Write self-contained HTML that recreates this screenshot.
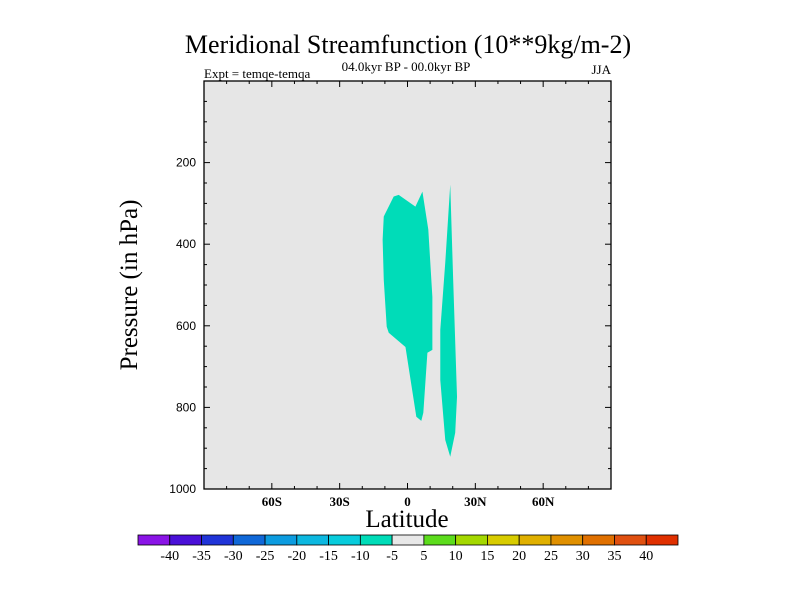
<!DOCTYPE html>
<html><head><meta charset="utf-8"><style>
html,body{margin:0;padding:0;background:#fff;width:800px;height:600px;overflow:hidden}
svg{display:block}
</style></head><body>
<svg id="chart" width="800" height="600" viewBox="0 0 800 600" xmlns="http://www.w3.org/2000/svg">
<text x="408" y="53" text-anchor="middle" font-family="Liberation Serif, serif" font-size="26">Meridional Streamfunction (10**9kg/m-2)</text>
<text x="406" y="71" text-anchor="middle" font-family="Liberation Serif, serif" font-size="13">04.0kyr BP - 00.0kyr BP</text>
<text x="204" y="78" font-family="Liberation Serif, serif" font-size="13">Expt = temqe-temqa</text>
<text x="611" y="74" text-anchor="end" font-family="Liberation Serif, serif" font-size="13">JJA</text>
<rect x="204" y="81" width="407" height="408" fill="#e6e6e6"/>
<g id="shapes"></g>
<g id="ticks" stroke="#000" stroke-width="1"></g>
<rect x="204" y="81" width="407" height="408" fill="none" stroke="#000" stroke-width="1.3"/>
<g id="labels" font-family="Liberation Serif, serif" font-size="13"></g>
<text transform="translate(137,285) rotate(-90)" text-anchor="middle" font-family="Liberation Serif, serif" font-size="25">Pressure (in hPa)</text>
<text x="407" y="527" text-anchor="middle" font-family="Liberation Serif, serif" font-size="25">Latitude</text>
<g id="colorbar"></g>
</svg>
<script>
const blobLat = [-10.5,-6.1,-3.9,3.5,6.6,9.2,11.0,11.0,8.8,7.0,6.1,3.9,-0.9,-8.3,-9.2,-10.5,-11.0];
const blobP = [332,283,279,308,271,364,529,659,666,813,833,823,652,617,602,487,389];
const sliverLat = [18.9,20.2,21.9,21.1,18.9,16.7,14.5,14.5,16.7];
const sliverP = [254,487,774,862,921,880,733,610,445];
const latTicks = [-60,-30,0,30,60];
const latTickLabels = ["60S","30S","0","30N","60N"];
const pTicks = [200,400,600,800,1000];
const cbLabels = ["-40","-35","-30","-25","-20","-15","-10","-5","5","10","15","20","25","30","35","40"];
const cbColors = ["#8a14e6","#4a10d8","#2034d8","#1068d8","#0c9ce0","#0cb8e0","#08ccdc","#00dcb8","#e8e8e8","#5cdc1c","#a4d800","#d8cc00","#e0b000","#e09000","#e07000","#e05010","#e03000"];

const NS="http://www.w3.org/2000/svg";
const X0=204,X1=611,Y0=81,Y1=489;
function xs(lat){return X0+(lat+90)/180*(X1-X0);}
function ys(p){return Y0+p/1000*(Y1-Y0);}
function mk(tag,attrs,parent){const e=document.createElementNS(NS,tag);for(const k in attrs)e.setAttribute(k,attrs[k]);parent.appendChild(e);return e;}

const sh=document.getElementById('shapes');
let b=mk('polygon',{points:blobLat.map((l,i)=>xs(l)+','+ys(blobP[i])).join(' '),fill:'#00dcb8'},sh);


let s=mk('polygon',{points:sliverLat.map((l,i)=>xs(l)+','+ys(sliverP[i])).join(' '),fill:'#00dcb8'},sh);



const tk=document.getElementById('ticks');
for(let l=-80;l<=80;l+=10){
  const major=l%30===0;const len=major?6:3;const x=xs(l);
  mk('line',{x1:x,y1:Y1,x2:x,y2:Y1-len},tk);
  mk('line',{x1:x,y1:Y0,x2:x,y2:Y0+len},tk);
}
for(let p=50;p<1000;p+=50){
  const major=p%200===0;const len=major?6:3;const y=ys(p);
  mk('line',{x1:X0,y1:y,x2:X0+len,y2:y},tk);
  mk('line',{x1:X1,y1:y,x2:X1-len,y2:y},tk);
}
const lb=document.getElementById('labels');
latTicks.forEach((l,i)=>{
  const t=mk('text',{x:xs(l),y:506,'text-anchor':'middle','font-weight':'bold'},lb);
  t.textContent=latTickLabels[i];
  
  
});
pTicks.forEach(p=>{
  const t=mk('text',{x:196,y:ys(p)+4,'text-anchor':'end','font-family':'Liberation Sans, sans-serif','font-size':12},lb);
  t.textContent=p;
  
  
});

const cb=document.getElementById('colorbar');
const CX0=138,CX1=678,CY=535,CH=10;const bw=(CX1-CX0)/cbColors.length;
cbColors.forEach((c,i)=>{
  const r=mk('rect',{x:CX0+i*bw,y:CY,width:bw,height:CH,fill:c,stroke:'#000','stroke-width':0.8},cb);
  
  
});
cbLabels.forEach((t,i)=>{
  const e=mk('text',{x:CX0+(i+1)*bw,y:560,'text-anchor':'middle','font-family':'Liberation Serif, serif','font-size':14},cb);
  e.textContent=t;
  
  
});
</script>
</body></html>
